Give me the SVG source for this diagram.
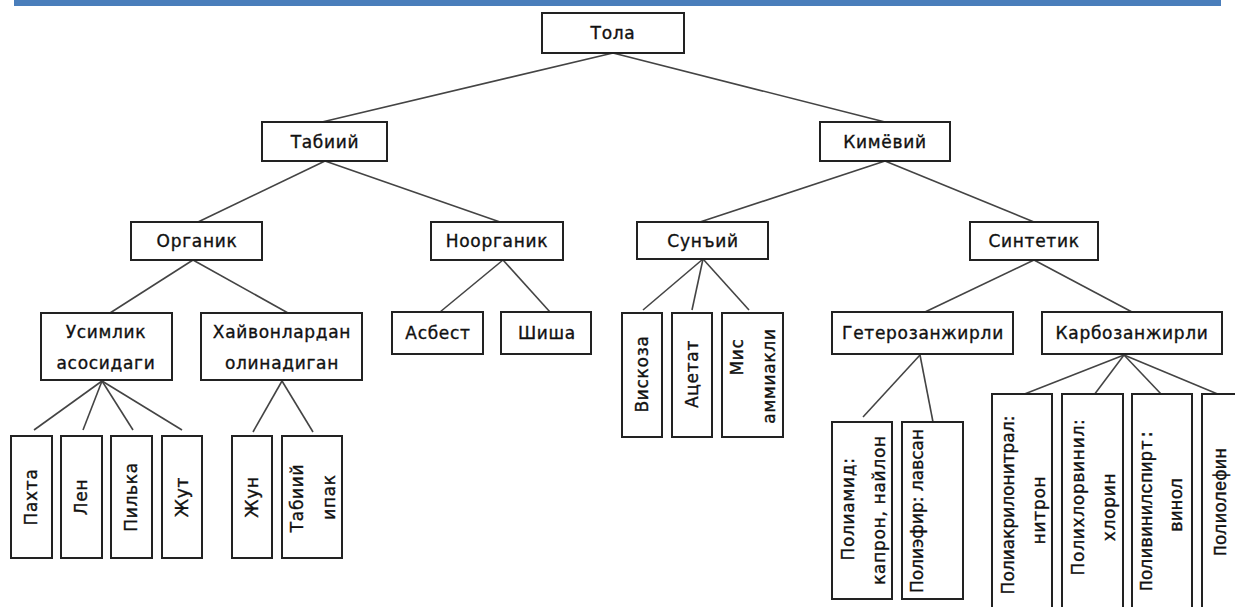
<svg xmlns="http://www.w3.org/2000/svg" width="1235" height="607" viewBox="0 0 1235 607">
<style>
.box{fill:#fff;stroke:#222;stroke-width:2}
.t{font-family:"DejaVu Sans",sans-serif;font-size:17px;letter-spacing:0.7px;fill:#111;stroke:#111;stroke-width:0.35;text-anchor:middle}
.m{font-family:"Liberation Mono",monospace;font-size:18px;fill:#111;stroke:#111;stroke-width:0.4;text-anchor:middle}
.c line{stroke:#444;stroke-width:1.6}
</style>
<rect x="14" y="0" width="1207" height="6" fill="#4a7ebb"/>
<g class="c" id="connectors">
<line x1="613" y1="53" x2="322" y2="122"/><line x1="613" y1="53" x2="885" y2="122"/>
<line x1="325" y1="161" x2="198" y2="222"/><line x1="325" y1="161" x2="500" y2="222"/>
<line x1="885" y1="161" x2="700" y2="222"/><line x1="885" y1="161" x2="1034" y2="222"/>
<line x1="193" y1="260" x2="110" y2="313"/><line x1="193" y1="260" x2="288" y2="313"/>
<line x1="503" y1="260" x2="440" y2="312"/><line x1="503" y1="260" x2="550" y2="312"/>
<line x1="703" y1="259" x2="643" y2="310"/><line x1="703" y1="259" x2="692" y2="310"/><line x1="703" y1="259" x2="749" y2="310"/>
<line x1="1034" y1="260" x2="925" y2="312"/><line x1="1034" y1="260" x2="1132" y2="312"/>
<line x1="102" y1="381" x2="34" y2="430"/><line x1="102" y1="381" x2="83" y2="430"/><line x1="102" y1="381" x2="133" y2="430"/><line x1="102" y1="381" x2="182" y2="430"/>
<line x1="282" y1="381" x2="253" y2="432"/><line x1="282" y1="381" x2="313" y2="432"/>
<line x1="920" y1="355" x2="863" y2="417"/><line x1="920" y1="355" x2="933" y2="422"/>
<line x1="1124" y1="355" x2="1022" y2="395"/><line x1="1124" y1="355" x2="1094" y2="395"/><line x1="1124" y1="355" x2="1162" y2="395"/><line x1="1124" y1="355" x2="1220" y2="395"/>
</g>
<g id="tola"><rect class="box" x="542" y="13" width="142" height="40"/><text class="t" x="613" y="39">Тола</text></g>
<g id="tabiiy"><rect class="box" x="262" y="122" width="125" height="39"/><text class="t" x="325" y="148">Табиий</text></g>
<g id="kimyoviy"><rect class="box" x="820" y="122" width="130" height="39"/><text class="t" x="885" y="148">Кимёвий</text></g>
<g id="organik"><rect class="box" x="131" y="222" width="131" height="38"/><text class="t" x="197" y="247">Органик</text></g>
<g id="noorganik"><rect class="box" x="431" y="222" width="132" height="38"/><text class="t" x="497" y="247">Ноорганик</text></g>
<g id="sunyiy"><rect class="box" x="637" y="222" width="131" height="37"/><text class="t" x="703" y="247">Сунъий</text></g>
<g id="sintetik"><rect class="box" x="970" y="222" width="128" height="38"/><text class="t" x="1034" y="247">Синтетик</text></g>
<g id="usimlik"><rect class="box" x="41" y="313" width="131" height="67"/><text class="t" x="106" y="338">Усимлик</text><text class="t" x="106" y="369">асосидаги</text></g>
<g id="hayvon"><rect class="box" x="201" y="313" width="161" height="67"/><text class="t" x="282" y="338">Хайвонлардан</text><text class="t" x="282" y="369">олинадиган</text></g>
<g id="asbest"><rect class="box" x="392" y="312" width="91" height="42"/><text class="t" x="438" y="339">Асбест</text></g>
<g id="shisha"><rect class="box" x="501" y="312" width="90" height="42"/><text class="t" x="547" y="339">Шиша</text></g>
<g id="geterozanjirli"><rect class="box" x="832" y="312" width="181" height="42"/><text class="t" x="923" y="339">Гетерозанжирли</text></g>
<g id="karbozanjirli"><rect class="box" x="1042" y="312" width="180" height="42"/><text class="t" x="1132" y="339">Карбозанжирли</text></g>
<g id="pakhta"><rect class="box" x="11" y="436" width="41" height="122"/><text class="t" transform="translate(31,497) rotate(-90)" y="6">Пахта</text></g>
<g id="len"><rect class="box" x="61" y="436" width="41" height="122"/><text class="t" transform="translate(81,497) rotate(-90)" y="6">Лен</text></g>
<g id="pilka"><rect class="box" x="111" y="436" width="41" height="122"/><text class="t" transform="translate(131,497) rotate(-90)" y="6">Пилька</text></g>
<g id="jut"><rect class="box" x="162" y="436" width="40" height="122"/><text class="t" transform="translate(182,497) rotate(-90)" y="6">Жут</text></g>
<g id="jun"><rect class="box" x="232" y="436" width="40" height="122"/><text class="t" transform="translate(252,497) rotate(-90)" y="6">Жун</text></g>
<g id="tabiiy-ipak"><rect class="box" x="282" y="436" width="60" height="122"/><text class="t" transform="translate(312,498) rotate(-90)" y="-9">Табиий</text><text class="t" transform="translate(312,497) rotate(-90)" y="23">ипак</text></g>
<g id="viskoza"><rect class="box" x="622" y="313" width="40" height="124"/><text class="t" transform="translate(642,374) rotate(-90)" y="6">Вискоза</text></g>
<g id="atsetat"><rect class="box" x="672" y="313" width="40" height="124"/><text class="t" transform="translate(692,374) rotate(-90)" y="6">Ацетат</text></g>
<g id="mis"><rect class="box" x="722" y="313" width="61" height="124"/><text class="t" transform="translate(752,357) rotate(-90)" y="-9">Мис</text><text class="t" transform="translate(752,376) rotate(-90)" y="23">аммиакли</text></g>
<g id="poliamid"><rect class="box" x="832" y="422" width="60" height="177"/><text class="t" transform="translate(862,509) rotate(-90)" y="-8">Полиамид:</text><text class="t" transform="translate(862,510) rotate(-90)" y="23">капрон, найлон</text></g>
<g id="poliefir"><rect class="box" x="902" y="422" width="61" height="177"/><text class="t" transform="translate(917,511) rotate(-90)" y="6" style="letter-spacing:0px">Полиэфир: лавсан</text></g>
<g id="poliakril"><rect class="box" x="992" y="394" width="60" height="220"/><text class="t" transform="translate(1022,505) rotate(-90)" y="-8" style="letter-spacing:0px">Полиакрилонитрал:</text><text class="t" transform="translate(1022,510) rotate(-90)" y="23">нитрон</text></g>
<g id="polikhlor"><rect class="box" x="1062" y="394" width="61" height="220"/><text class="t" transform="translate(1092,497) rotate(-90)" y="-8">Полихлорвинил:</text><text class="t" transform="translate(1092,507) rotate(-90)" y="23">хлорин</text></g>
<g id="polivinil"><rect class="box" x="1132" y="394" width="60" height="220"/><text class="m" transform="translate(1162,510) rotate(-90)" y="-10">Поливинилспирт:</text><text class="m" transform="translate(1162,505) rotate(-90)" y="20">винол</text></g>
<g id="poliolefin"><rect class="box" x="1202" y="394" width="60" height="220"/><text class="m" transform="translate(1220,502) rotate(-90)" y="6">Полиолефин</text></g>
</svg>
